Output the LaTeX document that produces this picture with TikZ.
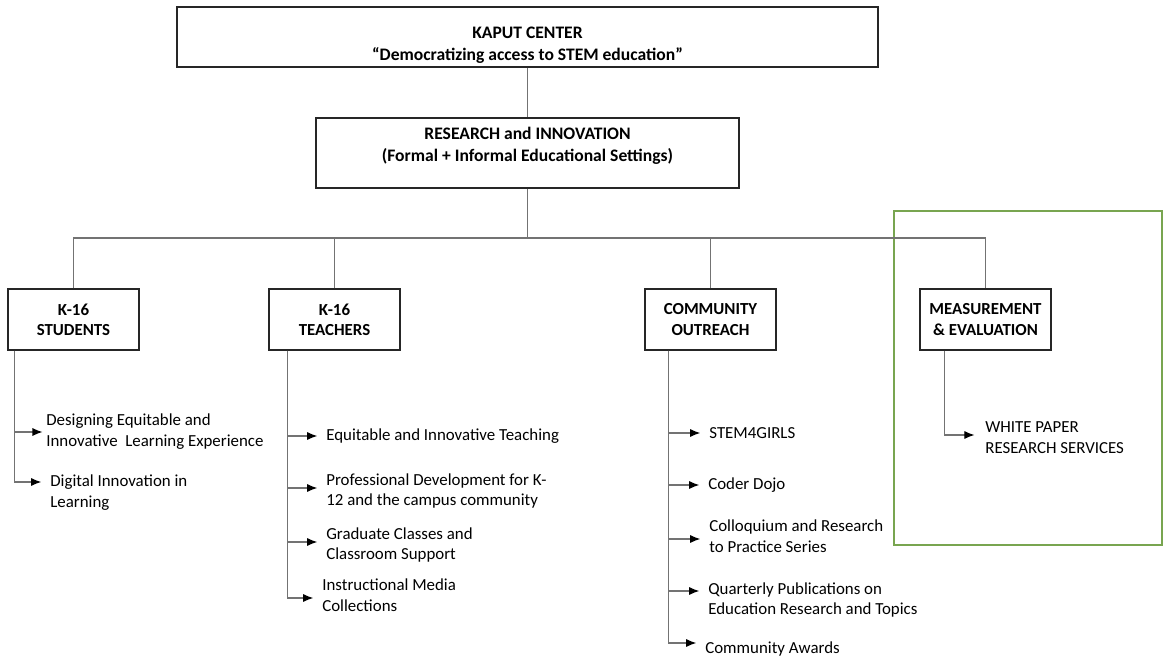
\documentclass[tikz,border=0pt]{standalone}
\usepackage{fontspec}
\setmainfont{Carlito}
\usetikzlibrary{arrows.meta,calc}
\tikzset{
    headbox/.style={draw=black!85, line width=0.7pt, align=center,
        font=\fontsize{10}{12.5}\selectfont\bfseries},
    unitbox/.style={draw=black!85, line width=0.7pt, align=center,
        font=\fontsize{9.6}{11.5}\selectfont\bfseries,
        minimum width=2.62cm, minimum height=1.22cm},
    itemtext/.style={anchor=west, align=left, inner sep=0pt,
        font=\fontsize{9.6}{11.9}\selectfont},
    orglink/.style={draw=black!55, line width=0.6pt},
    itemarrow/.style={orglink, shorten >=5pt,
        -{Latex[length=2mm,width=1.6mm,black]}},
    evalframe/.style={draw={rgb,255:red,120;green,165;blue,80}, line width=0.7pt}
}
\begin{document}
\begin{tikzpicture}[x=0.02cm, y=-0.02cm]
\useasboundingbox (0,0) rectangle (1163,658);
\draw[evalframe] (894,211) rectangle (1162,545);

\node[headbox, inner ysep=0.5pt, minimum width=14.02cm, minimum height=1.2cm] (kaput) at (527.5,37)
    {\mbox{}\\[3pt]KAPUT CENTER\\``Democratizing access to STEM education''};
\node[headbox, minimum width=8.46cm, minimum height=1.4cm] (research) at (527.5,153)
    {RESEARCH and INNOVATION\\(Formal + Informal Educational Settings)\\[-3pt]\mbox{}};
\node[unitbox] (stu) at (73.5,319.5) {K-16\\STUDENTS};
\node[unitbox] (tea) at (334.5,319.5) {K-16\\TEACHERS};
\node[unitbox] (com) at (710.5,319.5) {COMMUNITY\\OUTREACH};
\node[unitbox] (mea) at (985.5,319.5) {MEASUREMENT\\\& EVALUATION};
\coordinate (bus) at (research.south |- 0,238);

\draw[orglink] (kaput) -- (research);
\draw[orglink] (research) -- (bus);
\draw[orglink] (stu) |- (bus) -| (mea);
\draw[orglink] (tea) -- (tea.north |- bus);
\draw[orglink] (com) -- (com.north |- bus);

% K-16 students
\node[itemtext] (stu1) at (46,432) {Designing Equitable and\\Innovative~ Learning Experience};
\node[itemtext] (stu2) at (50,493) {Digital Innovation in\\Learning};
\draw[itemarrow, shorten >=2pt] ($(stu.south west)+(7,0)$) |- (stu1.west);
\draw[itemarrow] ($(stu.south west)+(7,0)$) |- ($(stu2.west)+(0,-11)$);

% K-16 teachers
\node[itemtext] (tea1) at (326,436) {Equitable and Innovative Teaching};
\node[itemtext] (tea2) at (326,491) {Professional Development for K-\\12 and the campus community};
\node[itemtext] (tea3) at (326,545) {Graduate Classes and\\Classroom Support};
\node[itemtext] (tea4) at (322,595) {Instructional Media\\Collections};
\draw[itemarrow] ($(tea.south west)+(19,0)$) |- (tea1.west);
\draw[itemarrow] ($(tea.south west)+(19,0)$) |- ($(tea2.west)+(0,-3)$);
\draw[itemarrow] ($(tea.south west)+(19,0)$) |- ($(tea3.west)+(0,-3)$);
\draw[itemarrow] ($(tea.south west)+(19,0)$) |- ($(tea4.west)+(0,3)$);

% community outreach
\node[itemtext] (com1) at (709,433) {STEM4GIRLS};
\node[itemtext] (com2) at (708,485) {Coder Dojo};
\node[itemtext] (com3) at (709,536) {Colloquium and Research\\to Practice Series};
\node[itemtext] (com4) at (708,600) {Quarterly Publications on\\Education Research and Topics};
\node[itemtext] (com5) at (705,649) {Community Awards};
\draw[itemarrow] ($(com.south west)+(24,0)$) |- (com1.west);
\draw[itemarrow] ($(com.south west)+(24,0)$) |- (com2.west);
\draw[itemarrow] ($(com.south west)+(24,0)$) |- ($(com3.west)+(0,3)$);
\draw[itemarrow] ($(com.south west)+(24,0)$) |- ($(com4.west)+(0,-9)$);
\draw[itemarrow] ($(com.south west)+(24,0)$) |- ($(com5.west)+(0,-6)$);

% measurement and evaluation
\node[itemtext] (mea1) at (985,438) {WHITE PAPER\\RESEARCH SERVICES};
\draw[itemarrow, shorten >=6pt] ($(mea.south west)+(25,0)$) |- ($(mea1.west)+(0,-3)$);
\end{tikzpicture}
\end{document}
